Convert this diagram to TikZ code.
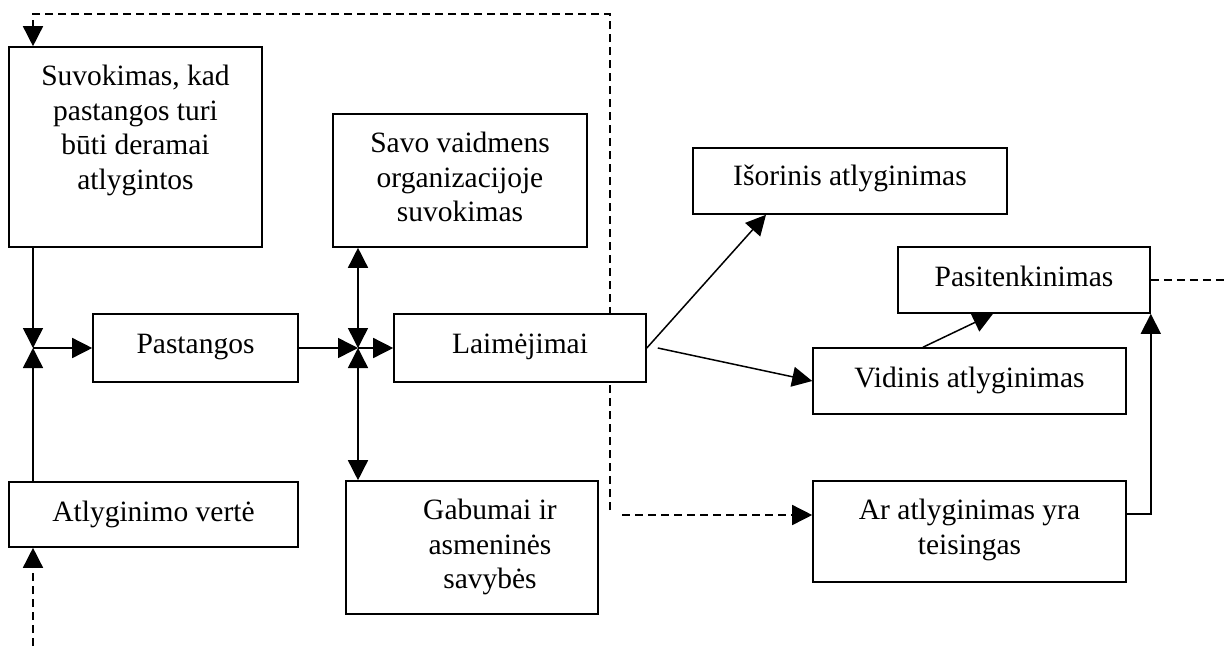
\documentclass[tikz,border=0pt]{standalone}
\usepackage{fontspec}
\setmainfont{Liberation Serif}
\usetikzlibrary{arrows.meta,backgrounds}
\newcommand\mystrut{\rule{0pt}{25pt}}
\begin{document}
\begin{tikzpicture}[x=1pt,y=-1pt,
  tri/.tip={Triangle[length=20pt,width=20pt]},
  box/.style={draw, line width=1.6pt, fill=white, inner sep=0pt},
  txt/.style={inner sep=0pt, align=center, anchor=north, font=\fontsize{29.5}{34.5}\selectfont},
  con/.style={line width=1.5pt, -tri},
  dcon/.style={line width=1.5pt, tri-tri},
  dsh/.style={line width=1.5pt, dash pattern=on 8pt off 5pt}]
\useasboundingbox (0,0) rectangle (1224,646);
% boxes
\node[box, minimum width=253pt, minimum height=200pt] (b1) at (135.5,147) {};
\node[box, minimum width=254pt, minimum height=133pt] (savo) at (460,180.5) {};
\node[box, minimum width=205pt, minimum height=68pt] (past) at (195.5,348) {};
\node[box, minimum width=252pt, minimum height=68pt] (laim) at (520,348) {};
\node[box, minimum width=289pt, minimum height=65pt] (atlyg) at (153.5,514.5) {};
\node[box, minimum width=252pt, minimum height=133pt] (gab) at (472,547.5) {};
\node[box, minimum width=314pt, minimum height=66pt] (isor) at (850,181) {};
\node[box, minimum width=252pt, minimum height=66pt] (pasit) at (1024,280) {};
\node[box, minimum width=313pt, minimum height=66pt] (vid) at (969.5,381) {};
\node[box, minimum width=313pt, minimum height=101pt] (ar) at (969.5,531.5) {};
% texts
\node[txt] (b1t) at ([yshift=-14.5pt]b1.north) {\mystrut Suvokimas, kad\\pastangos turi\\būti deramai\\atlygintos};
\node[txt] (savot) at ([yshift=-14.5pt]savo.north) {\mystrut Savo vaidmens\\organizacijoje\\suvokimas};
\node[txt] (pastt) at ([yshift=-15.5pt]past.north) {\mystrut Pastangos};
\node[txt] (laimt) at ([yshift=-15.5pt]laim.north) {\mystrut Laimėjimai};
\node[txt] (atlygt) at ([yshift=-15pt]atlyg.north) {\mystrut Atlyginimo vertė};
\node[txt] (gabt) at ([xshift=18pt,yshift=-14.5pt]gab.north) {\mystrut Gabumai ir\\asmeninės\\savybės};
\node[txt] (isort) at ([yshift=-13.5pt]isor.north) {\mystrut Išorinis atlyginimas};
\node[txt] (pasitt) at ([yshift=-15.5pt]pasit.north) {\mystrut Pasitenkinimas};
\node[txt] (vidt) at ([yshift=-15.5pt]vid.north) {\mystrut Vidinis atlyginimas};
\node[txt] (art) at ([yshift=-14.5pt]ar.north) {\mystrut Ar atlyginimas yra\\teisingas};
% coordinates
\coordinate (j1) at (33,348);
\coordinate (j2) at (358,348);
\coordinate (tl) at (33,14);
\coordinate (tr) at (610,14);
\coordinate (dv) at (610,510);
\coordinate (d2) at (622,515);
\coordinate (re) at (1224,280);
\coordinate (bl) at (33,646);
% dashed feedback behind boxes
\begin{scope}[on background layer]
\draw[dsh, -tri] (dv) -- (tr) -- (tl) -- (tl |- b1.north);
\end{scope}
\draw[dsh, -tri] (d2) -- (d2 -| ar.west);
\draw[dsh] (pasit.east) -- (pasit.east -| re);
\draw[dsh, -tri] (bl) -- (bl |- atlyg.south);
% left junction
\draw[con] (b1.south -| j1) -- (j1);
\draw[con] (atlyg.north -| j1) -- (j1);
\draw[con] (j1) -- (past.west);
% center junction
\draw[con] (past.east) -- (j2);
\draw[con] (j2) -- (laim.west);
\draw[dcon] (savo.south -| j2) -- (j2);
\draw[dcon] (gab.north -| j2) -- (j2);
% right side
\draw[con] (laim.east) -- ([xshift=-84pt]isor.south);
\draw[con] ([xshift=11pt]laim.east) -- (vid.west);
\draw[con] ([xshift=-46.5pt]vid.north) -- ([xshift=-31pt]pasit.south);
\draw[con] ([yshift=17.5pt]ar.east) -| (pasit.south east);
\end{tikzpicture}
\end{document}
